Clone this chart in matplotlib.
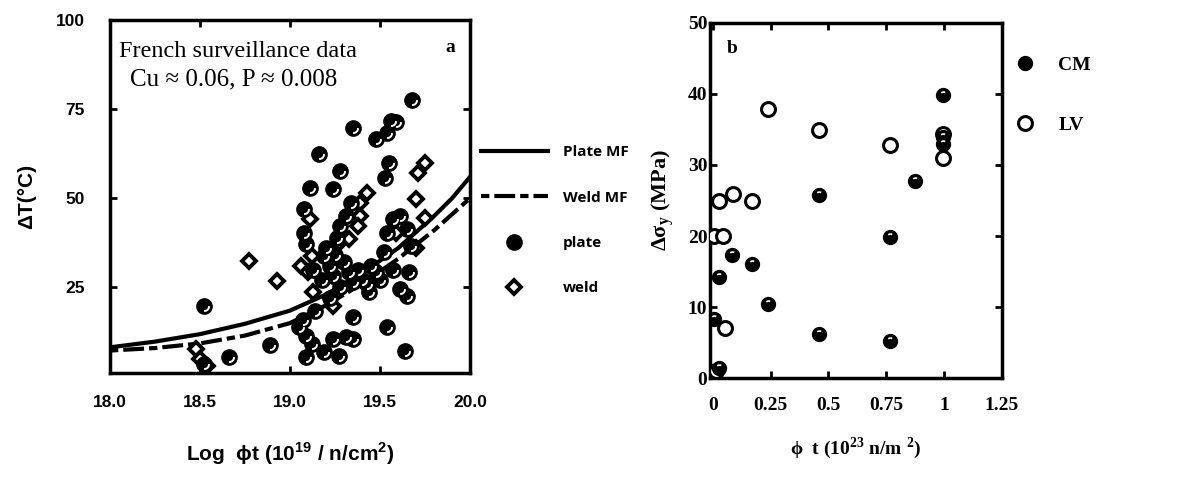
import matplotlib.pyplot as plt
from matplotlib.path import Path
from matplotlib.lines import Line2D

plt.rcParams['font.family'] = ['Liberation Sans', 'DejaVu Sans']

# panel a: French surveillance data
plate_x = [18.52, 18.66, 18.52, 18.89, 19.68, 19.35, 19.16, 19.28, 19.48, 19.56, 19.59, 19.54, 19.55,
           19.53, 19.11, 19.24, 19.08, 19.08, 19.09, 19.34, 19.31, 19.28, 19.26, 19.19, 19.22, 19.24,
           19.33, 19.35, 19.43, 19.44, 19.48, 19.54, 19.57, 19.61, 19.65, 19.66, 19.65, 19.61, 19.52,
           19.35, 19.35, 19.24, 19.19, 19.27, 19.09, 19.54, 19.64, 19.31, 19.09, 19.07, 19.14, 19.67,
           19.20, 19.25, 19.30, 19.38, 19.40, 19.45, 19.28, 19.22, 19.18, 19.05, 19.12, 19.50, 19.57,
           19.13]
plate_y = [19.7, 5.4, 3.5, 8.9, 77.6, 69.7, 62.3, 57.6, 66.6, 71.6, 71.3, 68.3, 59.9,
           55.7, 52.9, 52.5, 46.9, 40.4, 37.1, 48.7, 45.0, 42.2, 39.0, 33.8, 31.0, 28.2,
           29.2, 26.4, 25.9, 23.6, 29.2, 40.4, 44.1, 45.0, 41.3, 29.2, 22.6, 24.5, 34.8,
           16.6, 10.5, 10.5, 6.8, 5.9, 5.4, 13.8, 7.3, 11.0, 11.5, 16.0, 18.4, 36.6,
           36.0, 34.0, 32.0, 30.0, 27.0, 31.0, 25.0, 22.0, 27.0, 14.0, 9.0, 27.0, 30.0,
           30.0]

weld_x = [18.77, 18.93, 18.48, 18.50, 18.54, 19.06, 19.10, 19.13, 19.43, 19.39, 19.39, 19.38,
          19.75, 19.71, 19.70, 19.75, 19.24, 19.11, 19.12, 19.70, 19.59, 19.27, 19.33]
weld_y = [32.4, 26.8, 7.7, 4.9, 3.1, 31.0, 29.2, 23.6, 51.5, 48.7, 45.0, 42.2,
          59.9, 57.1, 49.7, 44.5, 19.9, 44.1, 33.8, 36.2, 40.4, 37.6, 38.5]

plate_mf_x = [18.0, 18.25, 18.5, 18.75, 19.0, 19.2, 19.4, 19.6, 19.8, 19.9, 20.0]
plate_mf_y = [8.2, 9.8, 11.9, 14.8, 18.5, 23.0, 29.0, 36.0, 45.0, 50.0, 56.0]
weld_mf_x = [18.0, 18.25, 18.5, 18.75, 19.0, 19.2, 19.4, 19.6, 19.8, 20.0]
weld_mf_y = [7.3, 8.0, 9.3, 11.5, 15.0, 20.0, 26.0, 33.0, 41.0, 50.0]

a_xticks = [18.0, 18.5, 19.0, 19.5, 20.0]
a_xlabels = ['18.0', '18.5', '19.0', '19.5', '20.0']
a_yticks = [25, 50, 75, 100]

# panel b
cm_x = [0.993, 0.46, 0.875, 0.767, 0.026, 0.083, 0.17, 0.237, 0.003, 0.46, 0.767, 0.026, 0.993, 0.993]
cm_y = [39.9, 25.8, 27.7, 19.9, 14.2, 17.3, 16.1, 10.4, 8.3, 6.2, 5.2, 1.4, 33.9, 32.9]
lv_x = [0.237, 0.46, 0.767, 0.993, 0.993, 0.026, 0.086, 0.17, 0.003, 0.043, 0.053, 0.015]
lv_y = [37.9, 34.9, 32.8, 31.0, 34.4, 24.9, 25.9, 24.9, 20.0, 20.0, 7.0, 1.0]

b_xticks = [0, 0.25, 0.5, 0.75, 1, 1.25]
b_xlabels = ['0', '0.25', '0.5', '0.75', '1', '1.25']
b_yticks = [0, 10, 20, 30, 40, 50]

crescent = Path.arc(-95, 5)
highlight = Path.arc(60, 130)

fig = plt.figure(figsize=(11.99, 4.86), dpi=100)
ax1 = fig.add_axes([0.0917, 0.2325, 0.3003, 0.7263])
ax2 = fig.add_axes([0.5922, 0.2222, 0.2435, 0.7305])

# ---- panel a
ax1.plot(plate_mf_x, plate_mf_y, color='black', lw=3, solid_capstyle='round', zorder=2)
ax1.plot(weld_mf_x, weld_mf_y, color='black', lw=3, dashes=(2, 1.2, 5, 1.2), zorder=2)
ax1.plot(weld_x, weld_y, ls='none', marker='D', ms=7.5, mfc='white', mec='black', mew=2.8, zorder=3)
ax1.plot(plate_x, plate_y, ls='none', marker='o', ms=11, mfc='black', mec='black', zorder=4)
ax1.plot(plate_x, plate_y, ls='none', marker=crescent, ms=6.5, mfc='none', mec='white', mew=1.4, zorder=5)

ax1.set_xlim(18.0, 20.0)
ax1.set_ylim(1, 100)
ax1.set_xticks(a_xticks, a_xlabels)
ax1.set_yticks(a_yticks)
ax1.tick_params(direction='in', length=5, width=2, top=True, right=True, labelsize=12.5, pad=16)
ax1.tick_params(axis='y', pad=18)
for lab in ax1.get_xticklabels() + ax1.get_yticklabels():
    lab.set_fontweight('bold')
for s in ax1.spines.values():
    s.set_linewidth(2.5)

ax1.set_ylabel('ΔT(°C)', fontsize=15, fontweight='bold', labelpad=14)
ax1.set_xlabel('Log  ϕt (10$^{\\mathregular{19}}$ / n/cm$^{\\mathregular{2}}$)',
               fontsize=15, fontweight='bold', labelpad=22)
ax1.text(0.025, 0.895, 'French surveillance data', transform=ax1.transAxes,
         family='Liberation Serif', fontsize=17.5, va='baseline')
ax1.text(0.055, 0.815, 'Cu ≈ 0.06, P ≈ 0.008', transform=ax1.transAxes,
         family='Liberation Serif', fontsize=18, va='baseline')
ax1.text(0.945, 0.91, 'a', transform=ax1.transAxes, family='Liberation Serif',
         fontsize=14, fontweight='bold', ha='center', va='baseline')

h_a = [Line2D([], [], color='black', lw=3),
       Line2D([], [], color='black', lw=3, dashes=(2, 1.2, 5, 1.2)),
       Line2D([], [], ls='none', marker='o', ms=11, mfc='black', mec='black'),
       Line2D([], [], ls='none', marker='D', ms=7.5, mfc='white', mec='black', mew=2.8)]
leg = ax1.legend(h_a, ['Plate MF', 'Weld MF', 'plate', 'weld'], loc='upper left',
                 bbox_to_anchor=(1.0, 0.675), frameon=False, handlelength=4.4,
                 handletextpad=1.0, labelspacing=2.05, borderaxespad=0.3,
                 prop={'family': 'Open Sans', 'weight': 'bold', 'size': 11})

# ---- panel b
ax2.plot(lv_x, lv_y, ls='none', marker='o', ms=10, mfc='white', mec='black', mew=2.2, zorder=3)
ax2.plot(cm_x, cm_y, ls='none', marker='o', ms=10, mfc='black', mec='black', zorder=4)
ax2.plot(cm_x, cm_y, ls='none', marker=highlight, ms=5, mfc='none', mec='white', mew=1.2, zorder=5)

ax2.set_xlim(-0.012, 1.25)
ax2.set_ylim(0, 50)
ax2.set_xticks(b_xticks, b_xlabels)
ax2.set_yticks(b_yticks)
ax2.tick_params(direction='in', length=5, width=2, top=True, right=True, labelsize=14, pad=14)
ax2.tick_params(axis='y', pad=2)
for lab in ax2.get_xticklabels() + ax2.get_yticklabels():
    lab.set_family('Liberation Serif')
    lab.set_fontweight('bold')
for s in ax2.spines.values():
    s.set_linewidth(2.5)

ax2.set_ylabel('Δσ$_{\\mathregular{y}}$ (MPa)', family='Liberation Serif', fontsize=16,
               fontweight='bold', labelpad=8)
ax2.set_xlabel('ϕ  t (10$^{\\mathregular{23}}$ n/m $^{\\mathregular{2}}$)', family='Liberation Serif',
               fontsize=14, fontweight='bold', labelpad=15)
ax2.text(0.075, 0.915, 'b', transform=ax2.transAxes, family='Liberation Serif',
         fontsize=14, fontweight='bold', ha='center', va='baseline')

h_b = [Line2D([], [], ls='none', marker='o', ms=10, mfc='black', mec='black'),
       Line2D([], [], ls='none', marker='o', ms=10, mfc='white', mec='black', mew=2.2)]
ax2.legend(h_b, ['CM', 'LV'], loc='upper left', bbox_to_anchor=(1.0, 0.945), frameon=False,
           handlelength=1.0, handletextpad=1.2, labelspacing=2.2, borderaxespad=0.3,
           prop={'family': 'Liberation Serif', 'weight': 'bold', 'size': 14})

fig.savefig('out.png', dpi=100)
